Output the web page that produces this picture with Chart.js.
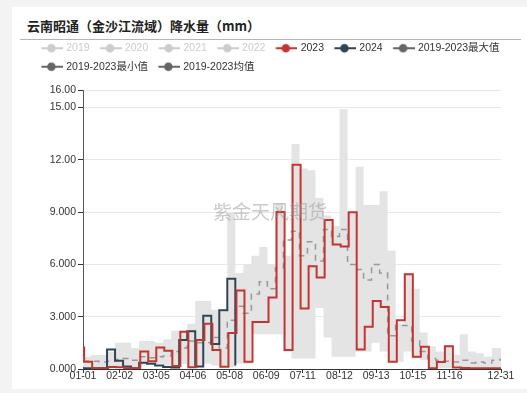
<!DOCTYPE html>
<html>
<head>
<meta charset="utf-8">
<script src="https://cdn.jsdelivr.net/npm/chart.js@4.4.0/dist/chart.umd.min.js"></script>
<style>
  html, body { margin: 0; padding: 0; background: #f3f3f3; }
  #wrap { position: relative; width: 527px; height: 393px; overflow: hidden; }
  #panel { position: absolute; left: 12px; top: 7px; width: 515px; height: 382px; background: #fff; }
  #title { position: absolute; left: 27px; top: 19px; font: bold 13px/13px "Noto Sans CJK SC", sans-serif; color: #222; white-space: nowrap; }
  #rule { position: absolute; left: 20px; top: 39px; width: 501px; height: 1px; background: #b5b5b5; }
  #mark { position: absolute; left: 213px; top: 201px; font: 19px/19px "Noto Sans CJK SC", sans-serif; color: rgba(150,150,150,0.5); pointer-events: none; white-space: nowrap; }
  canvas { position: absolute; left: 0; top: 0; }
</style>
</head>
<body>
<div id="wrap">
  <div id="panel"></div>
  <div id="title">云南昭通（金沙江流域）降水量（mm）</div>
  <div id="rule"></div>
  <canvas id="rainChart" width="527" height="393"></canvas>
  <div id="mark">紫金天风期货</div>
</div>
<script>
// x axis ticks (dates) and y axis ticks
const tickDates = ['01-01', '02-02', '03-05', '04-06', '05-08', '06-09', '07-11', '08-12', '09-13', '10-15', '11-16', '12-31'];
const yTicks = [0, 3, 6, 9, 12, 15, 16];
const hiddenYears = ['2019', '2020', '2021', '2022'];

// weekly rainfall, mm (2023: first value is 01-01, then one value per week)
const rain2023 = [1.24, 0.42, 0.04, 0.04, 0.12, 0.1, 0.05, 0.05, 1.0, 0.45, 1.24, 1.05, 0.17, 2.13, 0.1, 1.66, 2.6, 1.09, 0.13, 2.07,
  4.5, 0.42, 2.7, 2.7, 4.1, 9.0, 1.09, 11.71, 3.47, 5.89, 5.25, 8.55, 7.14, 7.03, 8.99, 1.12, 2.42, 3.9, 3.56, 0.42,
  2.8, 5.43, 0.7, 1.27, 0.04, 0.4, 1.31, 0.08, 0.06, 0.05, 0.05, 0.04, 0.04];
const rain2024 = [0.05, 0.05, 0.05, 1.12, 0.47, 0.15, 0.05, 0.36, 0.3, 0.2, 0.12, 0.08, 1.66, 2.17, 0.15, 3.05, 1.43, 3.37, 5.18, 0.2];
const max5y = [0.7, 0.8, 0.8, 1.0, 1.5, 1.5, 1.2, 1.6, 1.6, 1.5, 1.7, 2.2, 2.2, 2.6, 3.9, 3.9, 3.4, 3.3, 9.0, 5.5,
  6.0, 6.5, 7.0, 6.0, 9.5, 6.5, 12.9, 11.5, 11.4, 9.8, 8.8, 8.2, 14.9, 9.0, 11.6, 9.4, 9.4, 10.2, 6.8, 2.6,
  5.5, 4.6, 2.1, 1.3, 1.0, 1.35, 0.8, 2.0, 1.0, 0.9, 0.7, 1.2, 1.2];
const min5y = [0.1, 0.03, 0.03, 0.1, 0.08, 0.05, 0.03, 0.2, 0.3, 0.3, 0.2, 0.1, 0.3, 0.08, 0.1, 0.3, 0.2, 0.1, 0.1, 0.3,
  0.3, 2.0, 2.0, 2.0, 2.0, 1.0, 0.6, 0.6, 0.6, 3.5, 1.8, 0.7, 0.7, 0.7, 1.0, 1.0, 1.5, 1.0, 0.4, 0.4,
  1.0, 0.6, 0.5, 0.03, 0.05, 0.05, 0.05, 0.05, 0.05, 0.05, 0.05, 0.05, 0.05];
const avg5y = [0.45, 0.45, 0.4, 0.45, 0.55, 0.6, 0.5, 0.7, 0.65, 0.7, 0.75, 1.0, 1.2, 1.6, 1.5, 1.5, 1.8, 1.2, 2.8, 3.6,
  3.2, 4.3, 5.0, 4.6, 5.8, 7.4, 7.9, 6.5, 7.3, 6.2, 8.0, 7.6, 8.0, 6.0, 5.7, 5.1, 6.0, 5.5, 1.9, 2.5,
  2.5, 1.6, 1.0, 0.6, 0.5, 0.45, 0.4, 0.5, 0.35, 0.4, 0.35, 0.5, 0.55];

// day labels for a leap year axis (01-01 .. 12-31)
const dayLabels = [];
for (let d = new Date(2024, 0, 1); d.getFullYear() === 2024; d.setDate(d.getDate() + 1)) {
  dayLabels.push(String(d.getMonth() + 1).padStart(2, '0') + '-' + String(d.getDate()).padStart(2, '0'));
}
const lastDay = dayLabels.length - 1;

// weekly values -> points on the day axis
function weekly(values, startDay, close) {
  const pts = values.map((v, k) => ({ x: startDay(k), y: v }));
  if (close) pts.push({ x: lastDay, y: values[values.length - 1] });
  return pts;
}

function legendIcon(color) {
  const c = document.createElement('canvas');
  c.width = 26; c.height = 12;
  const g = c.getContext('2d');
  g.strokeStyle = color; g.fillStyle = color; g.lineWidth = 2;
  g.beginPath(); g.moveTo(4.4, 6); g.lineTo(26, 6); g.stroke();
  g.beginPath(); g.arc(14.4, 6, 4.3, 0, Math.PI * 2); g.fill();
  return c;
}

Chart.defaults.font.family = '"Liberation Sans", "Noto Sans CJK SC", sans-serif';
Chart.defaults.font.size = 10.5;
Chart.defaults.color = '#333';

// legend: fixed height, and a wider first row (7 items like the original)
const legendBox = {
  id: 'legendBox',
  beforeUpdate(chart) {
    const lg = chart.legend;
    if (!lg || lg._patched) return;
    lg._patched = true;
    const fit = lg.fit;
    lg.fit = function () {
      this.maxWidth = 486;
      fit.call(this);
      this.height = 55;
    };
    const draw = lg.draw;
    lg.draw = function () {
      const r = this.right;
      this.right = r + 30;
      draw.call(this);
      this.right = r;
    };
  }
};

const datasets = hiddenYears.map(y => ({
  label: y, data: [], hidden: true, pointStyle: legendIcon('#ccc'), borderColor: '#ccc'
}));
datasets.push(
  { label: '2023', data: weekly(rain2023, k => (k === 0 ? 0 : 7 * (k - 1) + 1), true),
    borderColor: '#c23531', borderWidth: 2, stepped: true, pointStyle: legendIcon('#c23531') },
  { label: '2024', data: weekly(rain2024, k => 7 * k, false),
    borderColor: '#2f4554', borderWidth: 2, stepped: true, pointStyle: legendIcon('#2f4554') },
  { label: '2019-2023最大值', data: weekly(max5y, k => 7 * k, true),
    borderColor: 'rgba(0,0,0,0)', borderWidth: 0, backgroundColor: '#e4e4e4', fill: '+1', stepped: true, pointStyle: legendIcon('#666') },
  { label: '2019-2023最小值', data: weekly(min5y, k => 7 * k, true),
    borderColor: 'rgba(0,0,0,0)', borderWidth: 0, fill: false, stepped: true, pointStyle: legendIcon('#666') },
  { label: '2019-2023均值', data: weekly(avg5y, k => 7 * k, true),
    borderColor: '#999', borderWidth: 1.5, borderDash: [6, 5], stepped: true, pointStyle: legendIcon('#666') }
);

const ctx = document.getElementById('rainChart').getContext('2d');
const rainChart = new Chart(ctx, {
  type: 'line',
  data: { datasets: datasets },
  plugins: [legendBox],
  options: {
    responsive: false,
    animation: false,
    layout: { padding: { left: 31, top: 35, right: 26, bottom: 4 } },
    elements: { point: { radius: 0, hoverRadius: 0 }, line: { tension: 0 } },
    plugins: {
      filler: { drawTime: 'beforeDatasetsDraw' },
      tooltip: { enabled: false },
      legend: {
        position: 'top',
        align: 'start',
        labels: {
          usePointStyle: true,
          pointStyleWidth: 22,
          padding: 8,
          color: '#333',
          font: { size: 10.5 },
          generateLabels(chart) {
            const items = Chart.defaults.plugins.legend.labels.generateLabels(chart);
            items.forEach(it => {
              if (it.hidden) { it.hidden = false; it.fontColor = '#ccc'; }
            });
            return items;
          }
        }
      }
    },
    scales: {
      x: {
        type: 'linear',
        min: 0,
        max: lastDay,
        afterBuildTicks(s) { s.ticks = tickDates.map(t => ({ value: dayLabels.indexOf(t) })); },
        afterFit(s) { s.height = 20; },
        ticks: {
          autoSkip: false, maxRotation: 0, padding: -3, color: '#333',
          font: { size: 10.5 },
          callback: v => dayLabels[v]
        },
        grid: { drawOnChartArea: false, tickLength: 4, color: '#333', tickColor: '#333' },
        border: { display: true, color: '#333', width: 1 }
      },
      y: {
        min: 0,
        max: 16,
        afterBuildTicks(s) { s.ticks = yTicks.map(v => ({ value: v })); },
        afterFit(s) { s.width = 52; },
        ticks: {
          padding: 2, color: '#333',
          font: { size: 10.5 },
          callback: v => (v >= 10 ? v.toFixed(2) : v.toFixed(3))
        },
        grid: { color: '#e8e8e8', tickLength: 5, tickColor: '#333' },
        border: { display: true, color: '#555', width: 1 }
      }
    }
  }
});
</script>
</body>
</html>
